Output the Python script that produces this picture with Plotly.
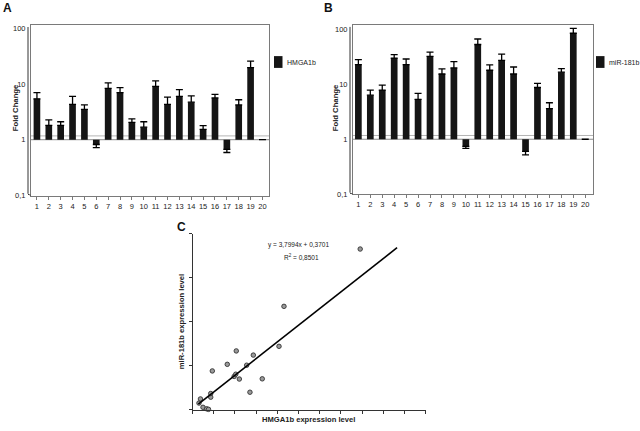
import plotly.graph_objects as go

# ---------------- data ----------------
samples = list(range(1, 21))
tick_labels = [str(s) for s in samples]

hmga1b_fold = [5.4, 1.8, 1.8, 4.3, 3.5, 0.82, 8.3, 7.0, 2.04, 1.68,
               9.0, 4.3, 6.0, 4.7, 1.53, 5.6, 0.67, 4.2, 19.6, 1.0]
hmga1b_err = [1.6, 0.47, 0.3, 1.7, 0.7, 0.10, 2.1, 1.6, 0.33, 0.42,
              2.3, 1.5, 1.9, 1.4, 0.26, 0.9, 0.08, 1.0, 6.0, 0.0]

mir181b_fold = [22.6, 6.3, 7.8, 29.8, 22.6, 5.3, 31.9, 15.3, 19.7, 0.74,
                52.5, 17.9, 27.0, 15.3, 0.60, 8.7, 3.6, 16.5, 84.0, 1.0]
mir181b_err = [5.3, 1.5, 1.8, 4.5, 6.0, 1.5, 6.1, 3.6, 5.9, 0.06,
               13.5, 4.4, 8.0, 5.2, 0.08, 1.6, 1.0, 2.7, 19.0, 0.0]

hmga_expr = [0.61, 0.75, 0.99, 1.34, 1.51, 1.72, 1.72, 1.87, 3.28, 3.93,
             4.08, 4.13, 4.42, 5.11, 5.42, 5.74, 6.58, 8.16, 8.63, 15.82]
mir_expr = [2.96, 4.84, 1.03, 0.36, 0.1, 5.64, 7.3, 17.6, 20.6, 15.1,
            16.1, 26.7, 13.9, 20.2, 7.9, 24.8, 14.0, 28.8, 47.0, 73.1]

fit_slope = 3.7994
fit_intercept = 0.3701
fit_x_range = [0.55, 19.3]

y_tickvals = [0.1, 1, 10, 100]
y_ticktext = ["0,1", "1", "10", "100"]

# ---------------- helpers ----------------
W, H = 640, 431
FONT = "Liberation Sans, Arial, sans-serif"
TXT = "#222222"


def X(px):
    return px / W


def Y(py):
    return 1 - py / H


def bar_traces(vals, errs, xa, ya):
    base = 1
    sizes = [v - base for v in vals]
    up = [e if v >= 1 else 0 for v, e in zip(vals, errs)]
    down = [e if v < 1 else 0 for v, e in zip(vals, errs)]
    bars = go.Bar(x=samples, y=sizes, base=base, width=0.56,
                  marker=dict(color="#151515", line=dict(width=0)),
                  xaxis=xa, yaxis=ya, showlegend=False, hoverinfo="skip")
    ebars = go.Scatter(x=samples, y=vals, mode="markers",
                       marker=dict(opacity=0, size=1),
                       error_y=dict(type="data", symmetric=False, array=up,
                                    arrayminus=down, color="#000000",
                                    thickness=1.3, width=3.5),
                       xaxis=xa, yaxis=ya, showlegend=False, hoverinfo="skip")
    return [bars, ebars]


fig = go.Figure()
for t in bar_traces(hmga1b_fold, hmga1b_err, "x", "y"):
    fig.add_trace(t)
for t in bar_traces(mir181b_fold, mir181b_err, "x2", "y2"):
    fig.add_trace(t)

fig.add_trace(go.Scatter(x=hmga_expr, y=mir_expr, mode="markers",
                         marker=dict(size=4.5, color="#9a9a9a",
                                     line=dict(color="#333333", width=0.9)),
                         xaxis="x3", yaxis="y3", showlegend=False,
                         cliponaxis=False, hoverinfo="skip"))
fit_y = [fit_slope * xv + fit_intercept for xv in fit_x_range]
fig.add_trace(go.Scatter(x=fit_x_range, y=fit_y, mode="lines",
                         line=dict(color="#000000", width=1.6),
                         xaxis="x3", yaxis="y3", showlegend=False,
                         hoverinfo="skip"))

frame_col = "#7a7a7a"
tickfont = dict(family=FONT, size=7.5, color=TXT)

bar_x_common = dict(tickmode="array", tickvals=samples, ticktext=tick_labels,
                    ticks="outside", ticklen=3, tickcolor=frame_col,
                    showline=True, linecolor=frame_col, linewidth=1,
                    mirror=True, showgrid=False, zeroline=False,
                    tickfont=tickfont, fixedrange=True)
bar_y_common = dict(type="log", tickmode="array", tickvals=y_tickvals,
                    ticktext=y_ticktext, ticks="outside", ticklen=3,
                    tickcolor="rgba(0,0,0,0)", showline=True,
                    linecolor=frame_col, linewidth=1, mirror=True,
                    showgrid=False, zeroline=False, tickfont=tickfont,
                    fixedrange=True)

fig.update_layout(
    width=W, height=H,
    margin=dict(l=0, r=0, t=0, b=0),
    paper_bgcolor="white", plot_bgcolor="white",
    font=dict(family=FONT, size=8, color=TXT),
    showlegend=False,
    xaxis=dict(domain=[X(31), X(269)], range=[0.5, 20.55], anchor="y",
               **bar_x_common),
    yaxis=dict(domain=[Y(196.7), Y(23.7)], range=[-1, 2.05], anchor="x",
               **bar_y_common),
    xaxis2=dict(domain=[X(353), X(593)], range=[0.55, 20.65], anchor="y2",
                **bar_x_common),
    yaxis2=dict(domain=[Y(195.5), Y(23.6)], range=[-1, 2.07], anchor="x2",
                **bar_y_common),
    xaxis3=dict(domain=[X(192.5), X(425.7)], range=[0, 22], anchor="y3",
                tickmode="linear", tick0=0, dtick=2, ticks="outside",
                ticklen=3, tickcolor="#333333", showticklabels=False,
                showline=True, linecolor="#333333", linewidth=1,
                showgrid=False, zeroline=False, fixedrange=True),
    yaxis3=dict(domain=[Y(414.3), Y(235.7)], range=[0, 80], anchor="x3",
                tickmode="linear", tick0=0, dtick=20, ticks="outside",
                ticklen=3, tickcolor="#333333", showticklabels=False,
                showline=True, linecolor="#333333", linewidth=1,
                showgrid=False, zeroline=False, fixedrange=True),
)

shapes = []
annos = []

# 3D-ish wall on left of panels A and B, and baseline at 1
for xref, yref, xl in (("x", "y", 28), ("x2", "y2", 350)):
    ydom = fig.layout[yref.replace("y", "yaxis")].domain
    shapes.append(dict(type="line", xref="paper", yref="paper",
                       x0=X(xl), x1=X(xl), y0=ydom[0] + 0.004, y1=ydom[1] - 0.004,
                       line=dict(color="#333333", width=1)))
    shapes.append(dict(type="line", xref="paper", yref=yref,
                       x0=X(xl), x1=X(xl + 3), y0=0.105, y1=0.1,
                       line=dict(color="#333333", width=1)))
    shapes.append(dict(type="line", xref=xref + " domain", yref=yref,
                       x0=0, x1=1, y0=1, y1=1, layer="below",
                       line=dict(color="#8a8a8a", width=1)))
    shapes.append(dict(type="line", xref=xref + " domain", yref=yref,
                       x0=0, x1=1, y0=1.17, y1=1.17, layer="below",
                       line=dict(color="#b5b5b5", width=1)))

# legends
for x0, label in ((274, "HMGA1b"), (596, "miR-181b")):
    shapes.append(dict(type="rect", xref="paper", yref="paper",
                       x0=X(x0), x1=X(x0 + 8.5), y0=Y(67), y1=Y(55),
                       fillcolor="#151515", line=dict(width=0)))
    annos.append(dict(xref="paper", yref="paper", x=X(x0 + 10.5), y=Y(61),
                      text=label, showarrow=False, xanchor="left",
                      yanchor="middle", font=dict(family=FONT, size=7,
                                                  color=TXT)))

# y titles for A and B
for xc in (15, 335):
    annos.append(dict(xref="paper", yref="paper", x=X(xc), y=Y(108),
                      text="<b>Fold Change</b>", textangle=-90,
                      showarrow=False, xanchor="center", yanchor="middle",
                      font=dict(family=FONT, size=7.7, color=TXT)))

# panel letters
for xl, yl, letter in ((7, 6, "A"), (328, 6, "B"), (181, 229, "C")):
    annos.append(dict(xref="paper", yref="paper", x=X(xl), y=Y(yl),
                      text="<b>%s</b>" % letter, showarrow=False,
                      xanchor="center", yanchor="middle",
                      font=dict(family=FONT, size=12, color="#111111")))

# panel C texts
annos.append(dict(xref="paper", yref="paper", x=X(298.5), y=Y(246.7),
                  text="y = 3,7994x + 0,3701", showarrow=False,
                  xanchor="center", yanchor="middle",
                  font=dict(family=FONT, size=6.5, color=TXT)))
annos.append(dict(xref="paper", yref="paper", x=X(301.5), y=Y(259.5),
                  text="R<sup>2</sup> = 0,8501", showarrow=False,
                  xanchor="center", yanchor="middle",
                  font=dict(family=FONT, size=6.5, color=TXT)))
annos.append(dict(xref="paper", yref="paper", x=X(181.5), y=Y(325),
                  text="<b>miR-181b expression level</b>", textangle=-90,
                  showarrow=False, xanchor="center", yanchor="middle",
                  font=dict(family=FONT, size=7.6, color=TXT)))
annos.append(dict(xref="paper", yref="paper", x=X(308.5), y=Y(431),
                  text="<b>HMGA1b expression level</b>",
                  showarrow=False, xanchor="center", yanchor="bottom",
                  font=dict(family=FONT, size=7.6, color=TXT)))

fig.update_layout(shapes=shapes, annotations=annos)
fig.write_html("out.html",
               config={"displayModeBar": False},
               post_script="document.body.style.margin='0';"
                           "document.body.style.overflow='hidden';")
